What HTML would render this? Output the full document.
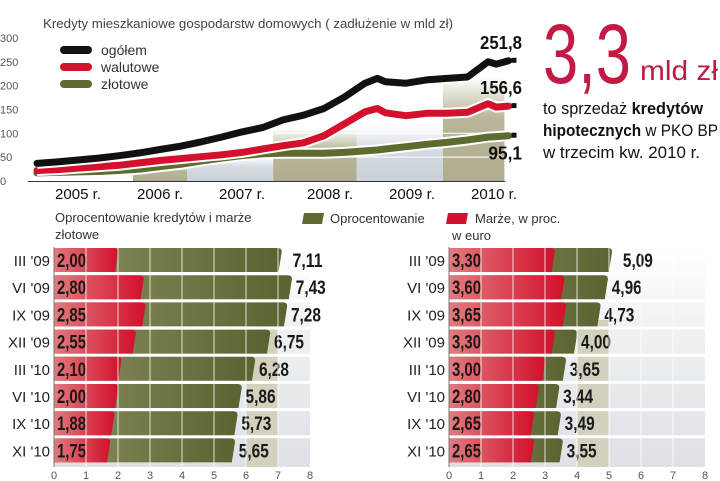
<!DOCTYPE html>
<html><head><meta charset="utf-8">
<style>
body{margin:0;background:#fff;}
svg{display:block;font-family:"Liberation Sans",sans-serif;}
.num{font-family:"Liberation Sans Narrow","Liberation Sans",sans-serif;font-weight:bold;}
</style></head>
<body>
<svg id="s" width="720" height="481" viewBox="0 0 720 481">
<defs>
<linearGradient id="tan" x1="0" y1="0" x2="0" y2="1"><stop offset="0" stop-color="#b9b69a" stop-opacity="0"/><stop offset="0.4" stop-color="#b9b69a"/><stop offset="1" stop-color="#b0ad8e"/></linearGradient>
<linearGradient id="blu" x1="0" y1="0" x2="0" y2="1"><stop offset="0" stop-color="#d5dce2" stop-opacity="0"/><stop offset="0.4" stop-color="#d5dce2"/><stop offset="1" stop-color="#c9d1d8"/></linearGradient>
<linearGradient id="gbar" x1="0" y1="0" x2="1" y2="0"><stop offset="0" stop-color="#8c8d60"/><stop offset="1" stop-color="#5a6330"/></linearGradient>
<linearGradient id="rbar" x1="0" y1="0" x2="1" y2="0"><stop offset="0" stop-color="#e27a7e"/><stop offset="1" stop-color="#d2102c"/></linearGradient>
<linearGradient id="bg1" x1="0" y1="0" x2="0" y2="1"><stop offset="0" stop-color="#ffffff"/><stop offset="0.4" stop-color="#eef0f2"/><stop offset="1" stop-color="#dde1e6"/></linearGradient>
</defs>
<g id="topchart"></g>
<g id="bars"></g>
<text x="543" y="83" font-size="84" fill="#c21a45" textLength="88" lengthAdjust="spacingAndGlyphs">3,3</text>
<text x="640" y="80" font-size="28" fill="#c21a45" textLength="78" lengthAdjust="spacingAndGlyphs">mld zł</text>
<text x="543" y="114" font-size="17" fill="#111" textLength="160" lengthAdjust="spacingAndGlyphs">to sprzedaż <tspan font-weight="bold">kredytów</tspan></text>
<text x="543" y="136" font-size="17" fill="#111" textLength="175" lengthAdjust="spacingAndGlyphs"><tspan font-weight="bold">hipotecznych</tspan> w PKO BP</text>
<text x="543" y="158" font-size="17" fill="#111" textLength="157" lengthAdjust="spacingAndGlyphs">w trzecim kw.  2010 r.</text>
</svg>
<script>
const NS='http://www.w3.org/2000/svg';
function mk(p,t,a){const e=document.createElementNS(NS,t);for(const k in a)e.setAttribute(k,a[k]);p.appendChild(e);return e;}
// ---- top line chart data ----
const yTicks=[0,50,100,150,200,250,300];
const years=['2005 r.','2006 r.','2007 r.','2008 r.','2009 r.','2010 r.'];
const tQ=[0,0.25,0.5,0.75,1,1.25,1.5,1.75,2,2.25,2.5,2.75,3,3.25,3.5,3.75,4,4.15,4.25,4.5,4.75,5,5.25,5.5,5.6,5.75];
const ogolem=[37,40,44,48,53,59,66,73,82,92,103,112,128,138,152,176,205,215,208,205,212,215,218,250,245,252];
const walutowe=[22,24,27,30,33,38,43,47,51,55,60,67,74,80,95,120,145,152,143,137,142,142,144,162,155,157];
const zlotowe=[17,18,19,20,22,25,30,35,42,48,53,57,58,58,58,60,63,65,67,72,77,81,86,92,93,95];
const endLabels=['251,8','156,6','95,1'];
const xT=t=>37+t*82, yV=v=>181-v*0.477;
const topG=document.getElementById('topchart');
let e;
e=mk(topG,'text',{x:43,y:28,'font-size':13,fill:'#444',textLength:410,lengthAdjust:'spacingAndGlyphs'});e.textContent='Kredyty mieszkaniowe gospodarstw domowych ( zadłużenie w mld zł)';


const panels=[[1.17,1.83,'tan',35],[1.83,2.88,'blu',50],[2.88,3.9,'tan',110],[3.9,4.95,'blu',115],[4.95,5.7,'tan',220]];
panels.forEach(p=>{const r=mk(topG,'rect',{x:xT(p[0]),y:yV(p[3]),width:xT(p[1])-xT(p[0]),height:181-yV(p[3]),fill:'url(#'+p[2]+')'});

});
[50,100].forEach(v=>{const l=mk(topG,'line',{x1:xT(2.9),x2:xT(5.7),y1:yV(v),y2:yV(v),stroke:'#fff','stroke-width':1});

});
yTicks.forEach(v=>{const t=mk(topG,'text',{x:0,y:yV(v)+4,'font-size':11,fill:'#555'});t.textContent=v;

});
const ax=mk(topG,'line',{x1:28,x2:505,y1:181.5,y2:181.5,stroke:'#333','stroke-width':1});


years.forEach((y,i)=>{const t=mk(topG,'text',{x:xT(i+0.5)-(i>2?-6:0),y:199,'font-size':15,fill:'#111','text-anchor':'middle',textLength:46,lengthAdjust:'spacingAndGlyphs'});t.textContent=y;

});
const series=[[zlotowe,'#5d6b2e'],[walutowe,'#d3112d'],[ogolem,'#111']];
series.forEach((s,si)=>{const d=s[0].map((v,i)=>(i?'L':'M')+xT(tQ[i]).toFixed(1)+','+yV(v).toFixed(1)).join('');
const h=mk(topG,'path',{d:d,fill:'none',stroke:'#fff','stroke-width':11,'stroke-linejoin':'round'});


const p=mk(topG,'path',{d:d,fill:'none',stroke:s[1],'stroke-width':7,'stroke-linejoin':'round','stroke-linecap':'round'});


const last=s[0][s[0].length-1];const m=mk(topG,'rect',{x:xT(5.75)+3,y:yV(last)-3,width:5,height:5,fill:'#111'});

});
[[ogolem,-12],[walutowe,-12],[zlotowe,24]].forEach((s,i)=>{const v=s[0][s[0].length-1];const t=mk(topG,'text',{x:522-endLabels[i].length*8.4,y:yV(v)+s[1],'font-size':18,class:'num',fill:'#111',textLength:endLabels[i].length*8.4,lengthAdjust:'spacingAndGlyphs'});t.textContent=endLabels[i];

});
[['ogółem','#111'],['walutowe','#d3112d'],['złotowe','#5d6b2e']].forEach((l,i)=>{const y=50+i*17;const r=mk(topG,'line',{x1:64,x2:88,y1:y,y2:y,stroke:l[1],'stroke-width':8,'stroke-linecap':'round'});


const t=mk(topG,'text',{x:101,y:y+5,'font-size':14,fill:'#333'});t.textContent=l[0];

});
// ---- bar charts ----
const periods=["III '09","VI '09","IX '09","XII '09","III '10","VI '10","IX '10","XI '10"];
const plnRate=[7.11,7.43,7.28,6.75,6.28,5.86,5.73,5.65];
const plnMargin=[2.00,2.80,2.85,2.55,2.10,2.00,1.88,1.75];
const eurRate=[5.09,4.96,4.73,4.00,3.65,3.44,3.49,3.55];
const eurMargin=[3.30,3.60,3.65,3.30,3.00,2.80,2.65,2.65];
const xTicks=[0,1,2,3,4,5,6,7,8];
const fmt=v=>v.toFixed(2).replace('.',',');
const barsG=document.getElementById('bars');
function chart(x0,rate,marg,name,band){
 const g=mk(barsG,'g',{});
 
 
 const xs=v=>x0+v*32, rowY=i=>248+i*27.2, bh=24;
 const b=mk(g,'rect',{x:xs(0),y:247,width:xs(8)-xs(0),height:220,fill:'url(#bg1)'});
 
 
 const b2=mk(g,'rect',{x:xs(band),y:320,width:32,height:147,fill:'#d3d1bd'});
 
 
 for(let i=1;i<8;i++){const l=mk(g,'line',{x1:xs(0),x2:xs(8),y1:rowY(i)-1.6,y2:rowY(i)-1.6,stroke:'#fff','stroke-width':3});
 
 }
 periods.forEach((p,i)=>{const y=rowY(i);
  const gr=mk(g,'path',{d:`M${xs(0)},${y}H${xs(rate[i])-4}Q${xs(rate[i])+1},${y} ${xs(rate[i])},${y+5}L${xs(rate[i])-3},${y+bh}H${xs(0)}Z`,fill:'url(#gbar)'});
  
  
  const rr=mk(g,'path',{d:`M${xs(0)},${y}H${xs(marg[i])-4}Q${xs(marg[i])+1},${y} ${xs(marg[i])},${y+5}L${xs(marg[i])-3},${y+bh}H${xs(0)}Z`,fill:'url(#rbar)'});
  
  
  const lb=mk(g,'text',{x:x0-4,y:y+18,'font-size':15,'text-anchor':'end',fill:'#222'});lb.textContent=p;
  
  
  const mv=mk(g,'text',{x:xs(0)+3,y:y+19,'font-size':19,class:'num',fill:'#1a1a1a',textLength:29,lengthAdjust:'spacingAndGlyphs'});mv.textContent=fmt(marg[i]);
  
  
  const rv=mk(g,'text',{x:xs(rate[i])+(i===0?11:4),y:y+19,'font-size':19,class:'num',fill:'#1a1a1a',textLength:30,lengthAdjust:'spacingAndGlyphs'});rv.textContent=fmt(rate[i]);
  
  
 });
 for(let k=1;k<8;k++){const l=mk(g,'line',{x1:xs(k),x2:xs(k),y1:247,y2:467,stroke:'#fff','stroke-width':1,'stroke-opacity':0.8});
 
 }
 const ya=mk(g,'line',{x1:xs(0),x2:xs(0),y1:247,y2:467,stroke:'#777','stroke-width':1});
 
 
 xTicks.forEach(v=>{const t=mk(g,'text',{x:xs(v),y:479,'font-size':11,'text-anchor':'middle',fill:'#555'});t.textContent=v;
 
 });
}
chart(54,plnRate,plnMargin,'pln-bar-chart',6);
chart(449,eurRate,eurMargin,'eur-bar-chart',4);
[['Oprocentowanie kredytów i marże',55,222],['złotowe',55,239],['Oprocentowanie',330,223],['Marże, w proc.',475,223],['w euro',452,240]].forEach(a=>{const t=mk(barsG,'text',{x:a[1],y:a[2],'font-size':13,fill:'#333'});t.textContent=a[0];

});
e=mk(barsG,'path',{d:'M304,213H324L322,224H302Z',fill:'#5f6a33'});


e=mk(barsG,'path',{d:'M448,213H468L466,224H446Z',fill:'#d3112d'});


</script>
</body></html>
